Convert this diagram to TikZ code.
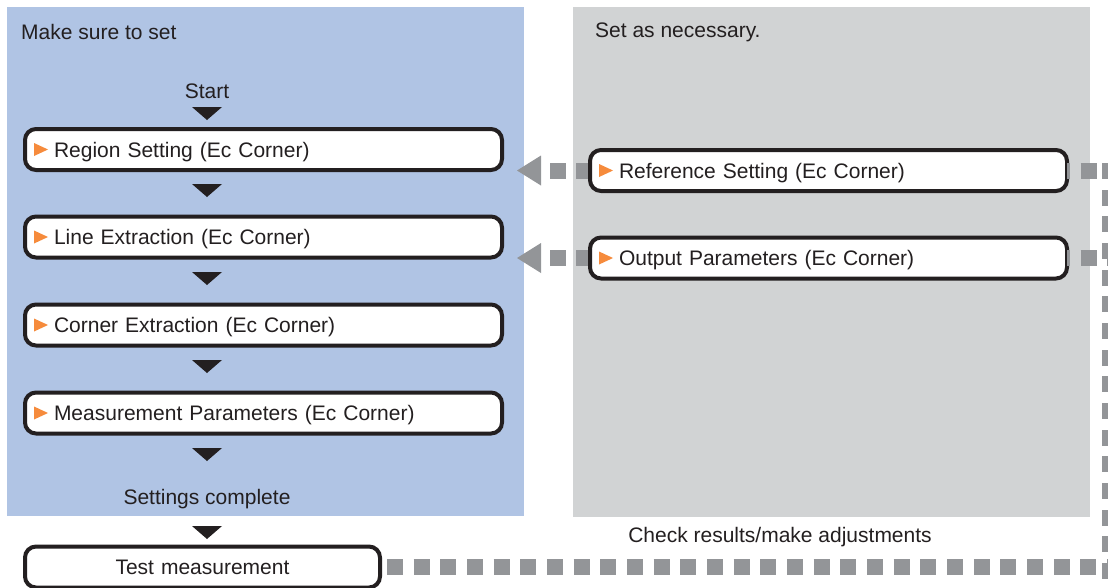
\documentclass[tikz,border=0pt]{standalone}
\usepackage{fontspec}
\setmainfont{Liberation Sans}
\usetikzlibrary{arrows.meta}

\definecolor{panelBlue}{HTML}{B0C4E4}
\definecolor{panelGray}{HTML}{D1D3D4}
\definecolor{dashColour}{HTML}{939598}
\definecolor{markColour}{HTML}{F68B3C}
\definecolor{textColour}{HTML}{231F20}

\tikzset{
  labeltext/.style={font=\fontsize{21}{25}\selectfont, text=textColour, inner sep=0pt},
  stepbox/.style={draw=textColour, line width=4pt, rounded corners=11pt, fill=white,
    minimum height=41pt, text width=419pt, align=left, inner xsep=29pt, inner ysep=0pt,
    text height=15pt, text depth=0pt,
    outer sep=0pt, font=\fontsize{21}{25}\selectfont, text=textColour},
  testbox/.style={stepbox, text width=297pt, align=center},
  feedback/.style={draw=dashColour, line width=16pt, dash pattern=on 16pt off 10.67pt},
  backtip/.style={-{Triangle[width=30pt,length=24pt,line width=0pt]}}
}

\begin{document}
\begin{tikzpicture}[x=1pt, y=-1pt]
    \useasboundingbox (0,0) rectangle (1108,587);

    % Draw panels
    \fill[panelBlue] (7,7) rectangle (524,516);
    \fill[panelGray] (573,7) rectangle (1090,517);

    % Panel headings
    \node[labeltext, anchor=west] (mustHead) at (21,32) {Make sure to set};
    \node[labeltext, anchor=west] (optHead) at (595,32) {Set as necessary.};

    % Define coordinates for the feedback loop
    \coordinate (loopTop) at (1110,163);
    \coordinate (loopBot) at (1110,579);
    \coordinate (refTip) at (517,170.5);
    \coordinate (outTip) at (517,258);

    % Main flow
    \node[labeltext] (start) at (207,91) {Start};
    \node[stepbox] (region) at (263.5,149.5) {Region Setting (Ec Corner)};
    \node[stepbox] (line) at (263.5,237) {Line Extraction (Ec Corner)};
    \node[stepbox] (corner) at (263.5,325) {Corner Extraction (Ec Corner)};
    \node[stepbox] (measure) at (263.5,413) {Measurement Parameters (Ec Corner)};
    \node[labeltext] (done) at (207,499) {Settings complete};

    % Feedback lines (drawn below the boxes)
    \draw[feedback] (loopTop) -- (loopBot);
    \draw[feedback, dash phase=4pt, backtip] (828.5,170.5) -- (refTip);
    \draw[feedback, dash phase=4pt, backtip] (828.5,258) -- (outTip);

    % Optional settings
    \node[stepbox] (ref) at (828.5,170.5) {Reference Setting (Ec Corner)};
    \node[stepbox] (out) at (828.5,258) {Output Parameters (Ec Corner)};
    \node[testbox] (test) at (202.5,567) {Test measurement};

    \draw[feedback, dash phase=13pt] (ref.east) -- (ref.east -| loopTop);
    \draw[feedback, dash phase=13pt] (out.east) -- (out.east -| loopTop);
    \draw[feedback, dash phase=19.67pt] (test.east) -- (test.east -| loopTop);

    \node[labeltext] (check) at (780,537) {Check results/make adjustments};

    % Down arrowheads
    \foreach \y in {107,184,272,360,448,526}
        \fill[textColour] (192,\y) -- (222,\y) -- (207,\y+13) -- cycle;

    % Orange markers
    \foreach \n in {region,line,corner,measure,ref,out}
        \fill[markColour] ([xshift=9pt]\n.west) ++(0,-6.5) -- ++(14,6.5) -- ++(-14,6.5) -- cycle;

\end{tikzpicture}
\end{document}
